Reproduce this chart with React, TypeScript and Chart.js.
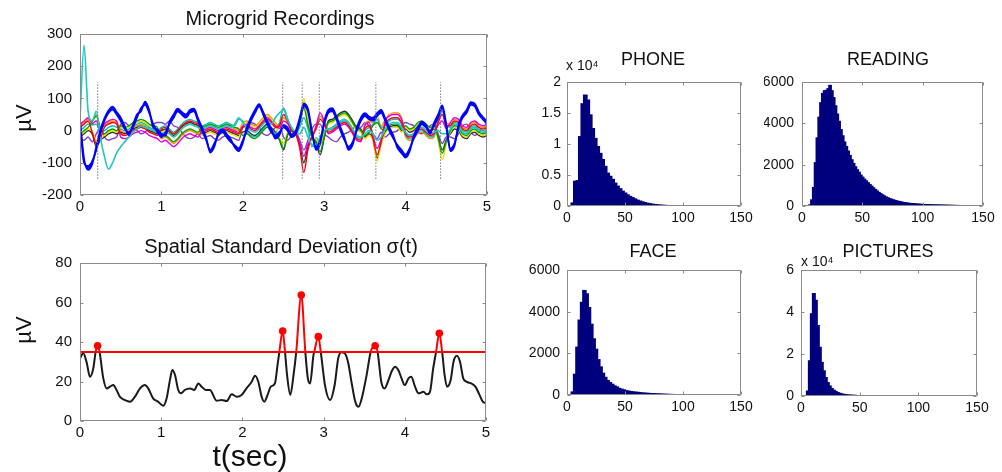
import React, { useEffect, useRef } from "react";
import { Chart, registerables } from "chart.js";

Chart.register(...registerables);

// ---------------- DATA ----------------
// Microgrid recordings, sampled every 0.05 s from 0 to 5 s
const REC_DT = 0.05;
// the two blue channels bound a thick blue band
const REC_BLUE_1 = [
  20, -100, -110, -95, -60, -10, 30, 55, 65, 50,
  30, 5, -5, 10, 40, 70, 80, 55, 20, -5,
  -20, -5, 20, 40, 60, 50, 40, 55, 60, 30,
  0, -30, -60, -40, -15, -5, -20, -35, -45, -55,
  -30, 0, 30, 55, 75, 50, 20, -5, -15, -5,
  10, 0, -20, -10, 30, 75, 60, -10, -50, -30,
  20, 55, 60, 35, 0, -30, -50, -35, 0, 30,
  45, 35, 30, 45, 55, 30, 0, -25, -45, -60,
  -75, -55, -25, 0, 20, 10, 0, 15, 40, 70,
  10, -55, -40, 10, 40, 55, 80, 75, 50, 35,
  20,
];
const REC_BLUE_2 = [
  32, -88, -122, -104, -50, 2, 38, 62, 74, 58,
  40, 14, -14, 18, 50, 60, 90, 64, 10, 4,
  -10, -16, 28, 50, 68, 58, 50, 64, 68, 38,
  10, -22, -68, -50, -6, 4, -10, -26, -52, -64,
  -38, 10, 40, 64, 82, 58, 30, 5, -25, -14,
  18, 10, -12, 0, 40, 84, 68, -2, -60, -40,
  28, 64, 70, 44, 10, -22, -60, -44, 8, 40,
  54, 44, 40, 54, 64, 38, 10, -16, -54, -70,
  -84, -64, -16, 10, 28, 18, -10, 24, 50, 78,
  18, -64, -48, 18, 48, 64, 88, 84, 58, 42,
  28,
];
const REC_CYAN = [
  40, 265, 60, 30, 60, -20, -80, -120, -100, -70,
  -50, -35, -20, -5, 5, 15, 10, 5, 0, -5,
  -10, -5, -10, -20, -10, 5, 15, 20, 15, 10,
  5, 10, 15, 10, 5, 10, 15, 10, 20, 40,
  25, 10, 0, -5, 5, 20, 30, 20, 40, 55,
  65, 35, 10, -5, -10, 10, -20, -45, -50, -20,
  0, 5, 10, 20, 30, 35, 25, 5, -15, -20,
  -10, 0, -10, -30, -20, 5, 20, 25, 25, 10,
  -5, -15, -10, 5, 10, 0, -10, -5, 0, -10,
  -10, 5, 20, 15, -5, -10, 5, 10, 0, -5,
  0,
];
const REC_RED = [
  10, 20, 30, -5, -40, -25, 10, 20, 25, 20,
  -10, -15, -10, 0, 5, 10, 5, -5, -10, -15,
  5, 10, 0, -10, 0, 15, 25, 30, 25, 20,
  -5, 0, 5, 0, -5, 0, 5, 0, -5, -10,
  10, 15, 5, 0, 10, 25, 35, 25, 10, 15,
  50, 30, 0, -10, -55, -130, -60, -20, 5, 35,
  20, -5, 0, 10, 20, 25, 15, -5, -25, -30,
  5, 15, -25, -75, -35, 20, 35, 40, 40, 25,
  -10, -20, -15, 0, 5, -5, -15, -10, 25, 50,
  15, 15, 30, 25, 5, 0, 15, 20, 10, 5,
  10,
];
const REC_GREEN = [
  -10, 0, 10, 28, 45, 8, -10, 0, 5, 0,
  15, 10, 15, 25, 30, 35, 30, 20, 15, 10,
  -20, -15, -25, -35, -25, -10, 0, 5, 0, -5,
  10, 15, 20, 15, 10, 15, 20, 15, 10, 5,
  -15, -10, -20, -25, -15, 0, 10, 0, -15, -27,
  -55, -12, 0, -10, 23, 70, 18, -20, -34, -65,
  -19, 25, 30, 40, 50, 55, 45, 25, 5, 0,
  -15, -5, 16, 25, 6, 0, 15, 20, 20, 5,
  15, 5, 10, 25, 30, 20, 10, 15, -23, -70,
  -33, 0, 15, 10, -10, -15, 0, 5, -5, -10,
  -5,
];
const REC_MAGENTA = [
  20, 30, 40, 22, 30, 2, 20, 30, 35, 30,
  -20, -25, -20, -10, -5, 0, -5, -15, -20, -25,
  -35, -30, -40, -50, -40, -25, -15, -10, -15, -20,
  0, 5, 10, 5, 0, 5, 10, 5, 0, -5,
  15, 20, 10, 5, 15, 30, 40, 30, 15, 7,
  30, 22, 0, -10, -37, -80, -42, -20, 14, 55,
  29, -10, -5, 5, 15, 20, 10, -10, -30, -35,
  15, 25, -16, -55, -26, 30, 45, 50, 50, 35,
  -5, -15, -10, 5, 10, 0, -10, -5, 17, 30,
  7, 25, 40, 35, 15, 10, 25, 30, 20, 15,
  20,
];
const REC_YELLOW = [
  -15, -5, 5, -2, -30, -22, -15, -5, 0, -5,
  10, 5, 10, 20, 25, 30, 25, 15, 10, 5,
  -5, 0, -10, -20, -10, 5, 15, 20, 15, 10,
  -15, -10, -5, -10, -15, -10, -5, -10, -15, -20,
  20, 25, 15, 10, 20, 35, 45, 35, 20, -21,
  -40, -6, 0, -10, 35, 100, 30, -20, -26, -45,
  -11, 20, 25, 35, 45, 50, 40, 20, 0, -5,
  -25, -15, -32, -95, -42, -10, 5, 10, 10, -5,
  10, 0, 5, 20, 25, 15, 5, 10, -31, -90,
  -41, -5, 10, 5, -15, -20, -5, 0, -10, -15,
  -10,
];
const REC_TEAL = [
  0, 10, 20, 18, 20, -2, 0, 10, 15, 10,
  5, 0, 5, 15, 20, 25, 20, 10, 5, 0,
  10, 15, 5, -5, 5, 20, 30, 35, 30, 25,
  15, 20, 25, 20, 15, 20, 25, 20, 15, 35,
  30, -5, -15, -20, -10, 5, 15, 5, -10, 23,
  70, 38, 0, -10, 11, 40, 6, -50, -22, -35,
  -7, 0, 5, 15, 25, 30, 20, 0, -20, -25,
  0, 10, 20, 35, 10, 15, 30, 35, 35, 20,
  -15, -25, -20, -5, 0, -10, -20, -15, 29, 60,
  19, 10, 25, 20, 0, -5, 10, 15, 5, 0,
  5,
];
const REC_BLACK = [
  -20, -10, 0, -10, -50, -30, -20, -10, -5, -10,
  -5, -10, -5, 5, 10, 15, 10, 0, -5, -10,
  0, 5, -5, -15, -5, 10, 20, 25, 20, 15,
  -10, -5, 0, -5, -10, -5, 0, -5, -10, -15,
  -5, 0, -10, -15, -5, 10, 20, 10, -5, -29,
  -60, -14, 0, -10, -45, -100, -50, -20, -38, -75,
  -23, 30, 35, 45, 55, 60, 50, 30, 10, 5,
  -20, -10, -28, -85, -38, -5, 10, 15, 15, 0,
  5, -5, 0, 15, 20, 10, 0, 5, -19, -60,
  -29, -10, 5, 0, -20, -25, -10, -5, -15, -20,
  -15,
];
const REC_ORANGE = [
  15, 25, 35, 30, 50, 10, 15, 25, 30, 25,
  0, -5, 0, 10, 15, 20, 15, 5, 0, -5,
  -25, -20, -30, -40, -30, -15, -5, 0, -5, -10,
  5, 10, 15, 10, 5, 10, 15, 10, 5, 0,
  25, 30, 20, 15, 25, 40, 50, 40, 25, 11,
  40, 26, 0, -10, 31, 90, 26, -20, 10, 45,
  25, 5, 10, 20, 30, 35, 25, 5, -15, -20,
  20, 30, 24, 45, 14, 35, 50, 55, 55, 40,
  -20, -30, -25, -10, -5, -15, -25, -20, 33, 70,
  23, 20, 35, 30, 10, 5, 20, 25, 15, 10,
  15,
];
const REC_PURPLE = [
  -25, -30, -20, -35, -10, 5, -20, -30, -25, -20,
  20, 25, 15, 5, 0, -10, -5, 10, 20, 25,
  25, 20, 30, 15, 10, -5, -20, -25, -20, -10,
  -25, -20, -15, -25, -30, -20, -15, -20, -25, -30,
  10, 15, 25, 20, 10, -10, -15, -5, 10, 20,
  -20, -30, -15, -5, -30, -60, -30, 5, 20, 20,
  -10, -20, -30, -35, -20, -10, -5, 5, 15, 10,
  25, 15, -10, -25, -5, -20, -10, -5, 0, 15,
  25, 20, 15, -5, -10, 0, 15, 20, -10, -40,
  -20, -20, -25, -10, 15, 20, -5, -15, -5, 10,
  5,
];
// Event markers (dotted verticals), seconds
const EVENT_T = [0.217, 2.49, 2.73, 2.94, 3.635, 4.43];
const EVENT_SPAN = [-150, 150];

// Spatial standard deviation sigma(t)
const SIGMA_T = [
  0, 0.04, 0.08, 0.123, 0.164, 0.193, 0.217, 0.241, 0.287, 0.33,
  0.37, 0.41, 0.45, 0.49, 0.554, 0.616, 0.677, 0.739, 0.8, 0.84,
  0.9, 0.96, 1.026, 1.067, 1.108, 1.137, 1.17, 1.21, 1.244, 1.29,
  1.355, 1.408, 1.457, 1.498, 1.55, 1.6, 1.683, 1.745, 1.806, 1.868,
  1.93, 1.99, 2.05, 2.114, 2.155, 2.196, 2.237, 2.27, 2.31, 2.35,
  2.4, 2.433, 2.455, 2.496, 2.525, 2.55, 2.59, 2.63, 2.663, 2.725,
  2.775, 2.806, 2.834, 2.875, 2.885, 2.935, 2.965, 3.02, 3.08, 3.136,
  3.18, 3.22, 3.26, 3.3, 3.35, 3.39, 3.43, 3.47, 3.53, 3.58,
  3.635, 3.665, 3.71, 3.75, 3.8, 3.84, 3.88, 3.92, 3.96, 4.0,
  4.045, 4.08, 4.126, 4.17, 4.23, 4.27, 4.31, 4.35, 4.385, 4.425,
  4.46, 4.49, 4.52, 4.565, 4.6, 4.64, 4.68, 4.72, 4.76, 4.82,
  4.87, 4.92, 4.96, 5.0,
];
const SIGMA_V = [
  31.7, 34.3, 30, 22.4, 26.7, 35, 38.1, 35, 21.6, 16.5,
  17.4, 18.2, 15.7, 12.3, 10.6, 9.8, 12.3, 16.5, 18.2, 16.5,
  11.5, 9.8, 7.7, 11.5, 20.8, 25.8, 23.3, 15.7, 14, 15.7,
  16.5, 15.7, 19, 17.4, 15.7, 15.7, 10.3, 10.6, 10.1, 13.5,
  12.3, 13.2, 16.5, 19.9, 22.9, 19.9, 12.3, 9.8, 13.2, 17.4,
  19, 28.4, 35, 45.6, 35, 23.3, 13.2, 23.3, 35, 63.8,
  35, 21.6, 19, 33.4, 35, 42.7, 35, 17.4, 10.6, 18.2,
  31.7, 34.8, 34.3, 30, 18.2, 9.8, 7.2, 11.5, 23.3, 35,
  38.1, 35, 19.9, 16.5, 20.8, 25.3, 27.5, 25.8, 21.6, 18.2,
  21.6, 22.4, 17.4, 14, 14.8, 13.5, 14.8, 26.7, 35, 44.4,
  35, 23.3, 17.4, 20.8, 30, 33, 30, 21.6, 19.9, 19,
  17.4, 13.2, 9.8, 9,
];
const SIGMA_THRESHOLD = 35;
const PEAK_T = [0.217, 2.496, 2.725, 2.935, 3.635, 4.425];
const PEAK_V = [38.1, 45.6, 63.8, 42.7, 38.1, 44.4];

// Histograms (counts per bin)
const PHONE_BIN_START = 4;
const PHONE_BIN_WIDTH = 2.14;
const PHONE_COUNTS = [
  500, 4000, 4100, 11200, 16500, 17900, 17100, 14700, 12500, 10900,
  9600, 8500, 7500, 6400, 5300, 4800, 4300, 3700, 3200, 2800,
  2400, 2100, 1800, 1550, 1350, 1150, 950, 800, 670, 550,
  450, 370, 300, 250, 200, 160, 130, 110, 90, 70,
  60, 50, 40, 30, 20, 10,
];
const READING_BIN_START = 6;
const READING_BIN_WIDTH = 1.5;
const READING_COUNTS = [
  60, 300, 900, 2100, 3300, 4300, 5000, 5450, 5580, 5600,
  5680, 5840, 5580, 5250, 4850, 4450, 4100, 3700, 3400, 3100,
  2880, 2660, 2450, 2240, 2060, 1900, 1760, 1640, 1500, 1400,
  1300, 1220, 1130, 1040, 960, 880, 800, 730, 660, 600,
  540, 490, 440, 400, 360, 330, 300, 270, 245, 225,
  205, 185, 170, 155, 142, 130, 120, 112, 104, 97,
  90, 85, 80, 76, 72, 68, 64, 61, 58, 55,
  52, 50, 47, 45, 43, 41, 39, 37, 35, 33,
  31, 29, 27, 25, 22, 20, 17, 14, 11, 8,
];
const FACE_BIN_START = 4;
const FACE_BIN_WIDTH = 2;
const FACE_COUNTS = [
  150, 1000, 2300, 3600, 4450, 5020, 4860, 4200, 3400, 2700,
  2200, 1700, 1350, 1050, 850, 700, 600, 520, 440, 390,
  320, 280, 250, 210, 190, 170, 150, 140, 130, 115,
  100, 92, 85, 78, 70, 64, 58, 52, 46, 42,
  38, 34, 30, 27, 24, 21, 18, 15, 12, 10,
  8, 6,
];
const PICTURES_BIN_START = 5;
const PICTURES_BIN_WIDTH = 1.7;
const PICTURES_COUNTS = [
  2400, 16800, 39200, 48800, 45600, 33600, 23200, 16000, 12000, 8800,
  6400, 4800, 3600, 2800, 2200, 1700, 1300, 1000, 800, 640,
  500, 450, 400, 350, 300, 250, 200, 160, 130, 100,
  80, 60, 40, 30, 20,
];

// Axis ticks
const REC_Y_TICKS = { min: -200, max: 300, step: 100 };
const SIGMA_Y_TICKS = { min: 0, max: 80, step: 20 };
const TIME_TICKS = { min: 0, max: 5, step: 1 };
const HIST_X_TICKS = { min: 0, max: 150, step: 50 };

// ---------------- STYLE / LAYOUT ----------------
const FONT = '"Liberation Sans", Arial, Helvetica, sans-serif';
const TEXT_COLOR = "#111111";
const BOX_COLOR = "#8a8a8a";
const BAR_COLOR = "#00007f";

type Rect = [number, number, number, number];
type TextItem = { text: string; x: number; y: number; size: number; align?: CanvasTextAlign; rotate?: number };

const GEOM: Record<string, { canvas: Rect; plot: Rect }> = {
  rec: { canvas: [0, 0, 500, 228], plot: [80, 34, 487, 195] },
  sig: { canvas: [0, 228, 500, 244], plot: [80, 263, 486, 421] },
  phone: { canvas: [510, 40, 250, 190], plot: [567, 82, 741, 206] },
  reading: { canvas: [760, 40, 242, 190], plot: [802, 82, 983, 206] },
  face: { canvas: [510, 240, 250, 190], plot: [567, 270, 741, 395] },
  pictures: { canvas: [760, 240, 242, 190], plot: [801, 270, 977, 396] },
};

function padFor(g: { canvas: Rect; plot: Rect }, yW: number, xH: number) {
  const [cx, cy, cw, ch] = g.canvas;
  const [l, t, r, b] = g.plot;
  return { left: l - cx - yW, top: t - cy, right: cx + cw - r, bottom: cy + ch - b - xH };
}

function makeTextPlugin(items: TextItem[], ox: number, oy: number) {
  return {
    id: "pageTexts",
    afterDraw(chart: any) {
      const ctx = chart.ctx as CanvasRenderingContext2D;
      items.forEach((it) => {
        ctx.save();
        ctx.font = `${it.size}px ${FONT}`;
        ctx.fillStyle = TEXT_COLOR;
        ctx.textAlign = it.align || "center";
        ctx.textBaseline = "middle";
        ctx.translate(it.x - ox, it.y - oy);
        if (it.rotate) ctx.rotate(it.rotate);
        ctx.fillText(it.text, 0, 0);
        ctx.restore();
      });
    },
  };
}

const boxPlugin = {
  id: "matlabBox",
  afterDatasetsDraw(chart: any) {
    const { ctx, chartArea: a, scales } = chart;
    const l = Math.round(a.left) + 0.5;
    const r = Math.round(a.right) - 0.5;
    const t = Math.round(a.top) + 0.5;
    const b = Math.round(a.bottom) - 0.5;
    ctx.save();
    ctx.strokeStyle = BOX_COLOR;
    ctx.lineWidth = 1;
    ctx.beginPath();
    ctx.rect(l, t, r - l, b - t);
    const tl = 3;
    scales.x.ticks.forEach((tk: any) => {
      const p = Math.round(scales.x.getPixelForValue(tk.value)) + 0.5;
      ctx.moveTo(p, b);
      ctx.lineTo(p, b - tl);
      ctx.moveTo(p, t);
      ctx.lineTo(p, t + tl);
    });
    scales.y.ticks.forEach((tk: any) => {
      const p = Math.round(scales.y.getPixelForValue(tk.value)) + 0.5;
      ctx.moveTo(l, p);
      ctx.lineTo(l + tl, p);
      ctx.moveTo(r, p);
      ctx.lineTo(r - tl, p);
    });
    ctx.stroke();
    ctx.restore();
  },
};

function axis(range: { min: number; max: number; step: number }, size: number, pad: number, fit: (s: any) => void, fmt: (v: number) => string) {
  return {
    type: "linear" as const,
    min: range.min,
    max: range.max,
    offset: false,
    grid: { display: false, drawTicks: false },
    border: { display: false },
    ticks: {
      stepSize: range.step,
      autoSkip: false,
      maxRotation: 0,
      padding: pad,
      color: TEXT_COLOR,
      font: { family: FONT, size },
      callback: (v: any) => fmt(Number(v)),
    },
    afterFit: fit,
  };
}

function baseOptions(padding: any, scales: any) {
  return {
    animation: false,
    responsive: false,
    devicePixelRatio: 1,
    events: [],
    layout: { padding },
    plugins: { legend: { display: false }, tooltip: { enabled: false }, title: { display: false } },
    scales,
  };
}

const toXY = (xs: number[], ys: number[]) => ys.map((y, i) => ({ x: xs[i], y }));

function recConfig() {
  const g = GEOM.rec;
  const times = REC_BLUE_1.map((_, i) => Math.round(i * REC_DT * 1000) / 1000);
  const line = (vals: number[], color: string, width: number, extra: any = {}) => ({
    data: toXY(times, vals),
    borderColor: color,
    backgroundColor: color,
    borderWidth: width,
    pointRadius: 0,
    cubicInterpolationMode: "monotone",
    fill: false,
    ...extra,
  });
  const events = EVENT_T.map((t) => ({
    data: EVENT_SPAN.map((y) => ({ x: t, y })),
    borderColor: "#7a7a7a",
    borderWidth: 1,
    borderDash: [1.5, 1.5],
    pointRadius: 0,
  }));
  const nEv = events.length;
  const datasets = [
    ...events,
    line(REC_BLUE_1, "#0000ff", 1.8),
    // filled band between the two blue channels
    line(REC_BLUE_2, "#0000ff", 1.8, { fill: { target: nEv } }),
    line(REC_CYAN, "#20c8c0", 1.6),
    line(REC_RED, "#ff0000", 1.4),
    line(REC_GREEN, "#00a000", 1.4),
    line(REC_MAGENTA, "#e000e0", 1.4),
    line(REC_YELLOW, "#e8e000", 1.4),
    line(REC_TEAL, "#00c0c0", 1.4),
    line(REC_BLACK, "#303030", 1.4),
    line(REC_ORANGE, "#ff9000", 1.4),
    line(REC_PURPLE, "#8040c0", 1.4),
  ];
  return {
    type: "line",
    data: { datasets },
    options: baseOptions(padFor(g, 40, 25), {
      x: axis(TIME_TICKS, 15, 3, (s: any) => { s.height = 25; }, (v) => String(v)),
      y: axis(REC_Y_TICKS, 15, 8, (s: any) => { s.width = 40; }, (v) => String(v)),
    }),
    plugins: [
      boxPlugin,
      makeTextPlugin(
        [
          { text: "Microgrid Recordings", x: 280, y: 19, size: 20 },
          { text: "µV", x: 25, y: 118, size: 22, rotate: -Math.PI / 2 },
        ],
        g.canvas[0],
        g.canvas[1]
      ),
    ],
  };
}

function sigConfig() {
  const g = GEOM.sig;
  const datasets = [
    {
      data: toXY(PEAK_T, PEAK_V),
      showLine: false,
      pointRadius: 3.8,
      pointBackgroundColor: "#ff0000",
      pointBorderColor: "#ff0000",
      borderWidth: 0,
    },
    {
      data: [
        { x: TIME_TICKS.min, y: SIGMA_THRESHOLD },
        { x: TIME_TICKS.max, y: SIGMA_THRESHOLD },
      ],
      borderColor: "#ff0000",
      borderWidth: 2,
      pointRadius: 0,
    },
    {
      data: toXY(SIGMA_T, SIGMA_V),
      borderColor: "#1a1a1a",
      borderWidth: 2,
      pointRadius: 0,
      cubicInterpolationMode: "monotone",
      segment: {
        borderColor: (c: any) =>
          c.p0.parsed.y >= SIGMA_THRESHOLD - 1e-9 && c.p1.parsed.y >= SIGMA_THRESHOLD - 1e-9 ? "#ff0000" : "#1a1a1a",
      },
    },
  ];
  return {
    type: "line",
    data: { datasets },
    options: baseOptions(padFor(g, 40, 20), {
      x: axis(TIME_TICKS, 15, 3, (s: any) => { s.height = 20; }, (v) => String(v)),
      y: axis(SIGMA_Y_TICKS, 15, 8, (s: any) => { s.width = 40; }, (v) => String(v)),
    }),
    plugins: [
      boxPlugin,
      makeTextPlugin(
        [
          { text: "Spatial Standard Deviation σ(t)", x: 281, y: 247, size: 20 },
          { text: "µV", x: 25, y: 330, size: 22, rotate: -Math.PI / 2 },
          { text: "t(sec)", x: 250, y: 458, size: 30 },
        ],
        g.canvas[0],
        g.canvas[1]
      ),
    ],
  };
}

// histogram bars: slightly wider than their spacing so neighbours overlap (no seams)
function histConfig(
  key: string,
  start: number,
  width: number,
  counts: number[],
  yRange: { min: number; max: number; step: number },
  yDiv: number,
  yW: number,
  yPad: number,
  texts: TextItem[]
) {
  const g = GEOM[key];
  const data = counts.map((c, i) => ({ x: start + (i + 0.5) * width, y: c }));
  return {
    type: "bar",
    data: {
      datasets: [
        {
          data,
          backgroundColor: BAR_COLOR,
          borderWidth: 0,
          barPercentage: 1.5,
          categoryPercentage: 1,
          inflateAmount: 0.5,
          grouped: false,
        },
      ],
    },
    options: baseOptions(padFor(g, yW, 20), {
      x: axis(HIST_X_TICKS, 14, 4, (s: any) => { s.height = 20; }, (v) => String(v)),
      y: axis(yRange, 14, yPad, (s: any) => { s.width = yW; }, (v) => String(v / yDiv)),
    }),
    plugins: [boxPlugin, makeTextPlugin(texts, g.canvas[0], g.canvas[1])],
  };
}

function ChartCanvas({ rect, build }: { rect: Rect; build: () => any }) {
  const ref = useRef<HTMLCanvasElement | null>(null);
  useEffect(() => {
    const chart = new Chart(ref.current as HTMLCanvasElement, build());
    return () => chart.destroy();
  }, []);
  return (
    <canvas
      ref={ref}
      width={rect[2]}
      height={rect[3]}
      style={{ position: "absolute", left: rect[0], top: rect[1], width: rect[2], height: rect[3] }}
    />
  );
}

export default function App() {
  return (
    <div style={{ position: "absolute", left: 0, top: 0, width: 1002, height: 472, background: "#ffffff", overflow: "hidden" }}>
      <ChartCanvas rect={GEOM.rec.canvas} build={recConfig} />
      <ChartCanvas rect={GEOM.sig.canvas} build={sigConfig} />
      <ChartCanvas
        rect={GEOM.phone.canvas}
        build={() =>
          histConfig("phone", PHONE_BIN_START, PHONE_BIN_WIDTH, PHONE_COUNTS, { min: 0, max: 20000, step: 5000 }, 10000, 45, 6, [
            { text: "PHONE", x: 653, y: 60, size: 18 },
            { text: "x 10⁴", x: 566, y: 66, size: 14, align: "left" },
          ])
        }
      />
      <ChartCanvas
        rect={GEOM.reading.canvas}
        build={() =>
          histConfig("reading", READING_BIN_START, READING_BIN_WIDTH, READING_COUNTS, { min: 0, max: 6000, step: 2000 }, 1, 38, 8, [
            { text: "READING", x: 888, y: 60, size: 18 },
          ])
        }
      />
      <ChartCanvas
        rect={GEOM.face.canvas}
        build={() =>
          histConfig("face", FACE_BIN_START, FACE_BIN_WIDTH, FACE_COUNTS, { min: 0, max: 6000, step: 2000 }, 1, 45, 7, [
            { text: "FACE", x: 653, y: 252, size: 18 },
          ])
        }
      />
      <ChartCanvas
        rect={GEOM.pictures.canvas}
        build={() =>
          histConfig("pictures", PICTURES_BIN_START, PICTURES_BIN_WIDTH, PICTURES_COUNTS, { min: 0, max: 60000, step: 20000 }, 10000, 38, 7, [
            { text: "PICTURES", x: 888, y: 252, size: 18 },
            { text: "x 10⁴", x: 801, y: 262, size: 14, align: "left" },
          ])
        }
      />
    </div>
  );
}
